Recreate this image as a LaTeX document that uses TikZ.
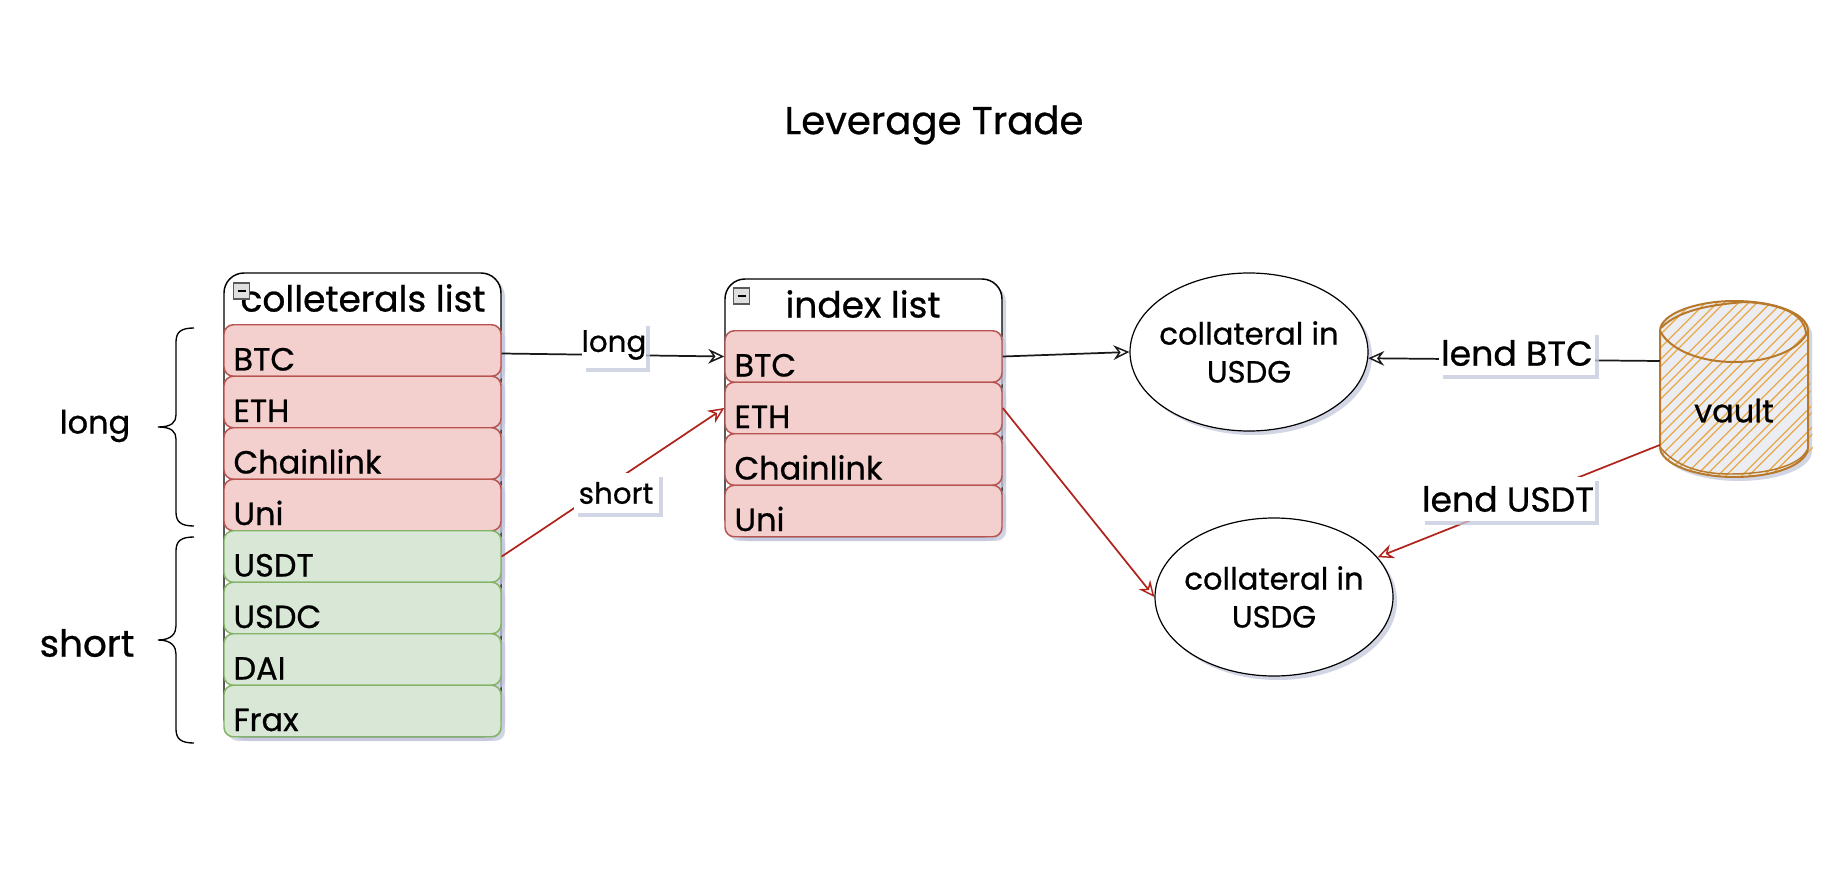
\documentclass[tikz,border=0pt]{standalone}
\usepackage{fontspec}
\setmainfont{Poppins}[FakeBold=0.7]
\usetikzlibrary{arrows.meta,shadows,calc,shapes.geometric}
\definecolor{shc}{HTML}{C4C7DC}
\definecolor{redfill}{HTML}{F3CFCD}
\definecolor{redline}{HTML}{B85450}
\definecolor{greenfill}{HTML}{D9E8D6}
\definecolor{greenline}{HTML}{82B366}
\definecolor{edgered}{HTML}{B0241C}
\definecolor{vaultline}{HTML}{B87A2A}
\definecolor{vaulthatch}{HTML}{E9A948}
\definecolor{vaultfill}{HTML}{ECEDF3}
\newcommand\pxu{0.75pt}
\newcommand\fs[1]{\fontsize{#1}{#1}\selectfont}
\tikzset{
 softshadow/.style={drop shadow={shadow xshift=3pt,shadow yshift=-3pt,fill=shc,opacity=.75}},
 lane/.style={draw=black,line width=1.1pt,rounded corners=15pt,fill=white,minimum width=277*\pxu,inner sep=0pt,softshadow},
 rowbase/.style={rounded corners=7pt,line width=1.1pt,minimum width=277*\pxu,minimum height=51.5*\pxu,inner sep=0pt,text width=258*\pxu,align=left,font=\fs{24},softshadow},
 redrow/.style={rowbase,draw=redline,fill=redfill},
 greenrow/.style={rowbase,draw=greenline,fill=greenfill},
 headtext/.style={inner sep=0pt,font=\fs{27}},
 icon/.style={draw=gray!70!black,fill=gray!25,line width=.8pt,minimum size=16*\pxu,inner sep=0pt,
   path picture={\draw[black,line width=.9pt] ([xshift=3pt]path picture bounding box.west) -- ([xshift=-3pt]path picture bounding box.east);}},
 stateshape/.style={ellipse,draw=black,line width=.9pt,fill=white,minimum width=238*\pxu,minimum height=158*\pxu,inner sep=-10pt,align=center,font=\fontsize{23}{28.5}\selectfont,softshadow},
 conn/.style={line width=1.3pt,-{Stealth[open,length=12pt,width=11pt,inset=4pt,line width=1.1pt]}},
 blackconn/.style={conn,draw=black!90},
 redconn/.style={conn,draw=edgered},
 edgelabel/.style={fill=white,inner sep=0pt,align=center,softshadow},
 plaintext/.style={inner sep=0pt},
 bracepath/.style={draw=black,line width=1pt},
 vaultstroke/.style={draw=vaultline,line width=1.5pt},
}
\newcommand\rowtext[1]{\smash{\raisebox{-15pt}{#1}}}
\begin{document}
\begin{tikzpicture}[x=0.75pt,y=-0.75pt]
\useasboundingbox (0,0) rectangle (1846,884);
\fill[white] (0,0) rectangle (1846,884);

\node[plaintext,font=\fs{29}] (title) at (934,125) {Leverage Trade};

% collateral list
\node[lane,minimum height=464*\pxu] (lane1) at (362.5,505) {};
\node[headtext] (head1) at (363,298) {colleterals list};
\node[icon] (icon1) at (241.5,291) {};
\node[redrow] (cbtc) at (362.5,350.5) {\rowtext{BTC}};
\node[redrow] (ceth) at (362.5,402) {\rowtext{ETH}};
\node[redrow] (clink) at (362.5,453.5) {\rowtext{Chainlink}};
\node[redrow] (cuni) at (362.5,505) {\rowtext{Uni}};
\node[greenrow] (cusdt) at (362.5,556.5) {\rowtext{USDT}};
\node[greenrow] (cusdc) at (362.5,608) {\rowtext{USDC}};
\node[greenrow] (cdai) at (362.5,659.5) {\rowtext{DAI}};
\node[greenrow] (cfrax) at (362.5,711) {\rowtext{Frax}};

% index list
\node[lane,minimum height=258*\pxu] (lane2) at (863.5,408) {};
\node[headtext] (head2) at (863,304) {index list};
\node[icon] (icon2) at (741.5,296) {};
\node[redrow] (ibtc) at (863.5,356.5) {\rowtext{BTC}};
\node[redrow] (ieth) at (863.5,408) {\rowtext{ETH}};
\node[redrow] (ilink) at (863.5,459.5) {\rowtext{Chainlink}};
\node[redrow] (iuni) at (863.5,511) {\rowtext{Uni}};

% ellipses
\node[stateshape] (e1) at (1249,352) {collateral in\\USDG};
\node[stateshape] (e2) at (1274,597) {collateral in\\USDG};

% vault cylinder
\begin{scope}
 \path[fill=shc,opacity=.75] (1664,335) .. controls (1664,318) and (1700,305) .. (1738,305) .. controls (1780,305) and (1812,318) .. (1812,335) -- (1812,451) .. controls (1812,468) and (1780,481) .. (1738,481) .. controls (1700,481) and (1664,468) .. (1664,451) -- cycle;
 \path[fill=vaultfill] (1660,331) .. controls (1660,314) and (1696,301) .. (1734,301) .. controls (1776,301) and (1808,314) .. (1808,331) -- (1808,447) .. controls (1808,464) and (1776,477) .. (1734,477) .. controls (1696,477) and (1660,464) .. (1660,447) -- cycle;
 \begin{scope}
  \clip (1660,331) .. controls (1660,314) and (1696,301) .. (1734,301) .. controls (1776,301) and (1808,314) .. (1808,331) -- (1813,447) .. controls (1808,464) and (1776,477) .. (1734,477) .. controls (1696,477) and (1660,464) .. (1660,447) -- cycle;
  \pgfmathsetseed{7}
  \foreach \k in {0,...,36} {
   \pgfmathsetmacro\jit{rand*3}
   \draw[vaulthatch,line width=.95pt] ({1440+\k*11+\jit},500) -- ({1440+\k*11+\jit+200},300);
  }
 \end{scope}
 \draw[vaultstroke] (1660,331) .. controls (1660,314) and (1696,301) .. (1734,301) .. controls (1776,301) and (1808,314) .. (1808,331) -- (1808,447) .. controls (1808,464) and (1776,477) .. (1734,477) .. controls (1696,477) and (1660,464) .. (1660,447) -- cycle;
 \draw[vaultstroke] (1661,328) .. controls (1680,308) and (1720,304) .. (1745,302) .. controls (1785,304) and (1806,316) .. (1806,335);
 \draw[vaultstroke] (1660,331) .. controls (1670,350) and (1700,362) .. (1734,362) .. controls (1770,362) and (1800,350) .. (1808,331);
 \draw[vaultstroke,line width=1.1pt] (1660,447) .. controls (1675,466) and (1700,474) .. (1730,474) .. controls (1770,474) and (1800,465) .. (1807,450);
\end{scope}
\node[plaintext,font=\fs{24},minimum width=148*\pxu,minimum height=176*\pxu] (vault) at (1734,389) {\smash{\raisebox{-25pt}{vault}}};
\coordinate (vaulta) at ($(vault.west)+(0,-28)$);
\coordinate (vaultb) at ($(vault.west)+(0,56)$);

% connectors
\draw[blackconn] ($(cbtc.east)+(0,3)$) -- (ibtc.west);
\draw[redconn] (cusdt.east) -- (ieth.west);
\draw[blackconn] (ibtc.east) -- (e1.west);
\draw[redconn] (ieth.east) -- (e2.west);
\draw[blackconn] (vaulta) -- (e1.-3);
\draw[redconn] (vaultb) -- (e2.21);

% edge labels
\node[edgelabel,minimum width=59*\pxu,minimum height=46*\pxu,font=\fs{22}] (llong) at (614,345) {\raisebox{-3pt}{long}};
\node[edgelabel,minimum width=85*\pxu,minimum height=40*\pxu,font=\fs{22}] (lshort) at (616,493) {short};
\node[edgelabel,minimum width=156*\pxu,minimum height=44*\pxu,font=\fs{26}] (lbtc) at (1517,353) {lend BTC};
\node[edgelabel,minimum width=174*\pxu,minimum height=44*\pxu,font=\fs{26}] (lusdt) at (1508,499) {lend USDT};

% braces
\draw[bracepath] (194,328) .. controls (181,328) and (176,332) .. (176,342) -- (176,415) .. controls (176,422) and (172,427) .. (158,427) .. controls (172,427) and (176,432) .. (176,439) -- (176,512) .. controls (176,522) and (181,526) .. (194,526);
\draw[bracepath] (194,537) .. controls (181,537) and (176,541) .. (176,551) -- (176,626) .. controls (176,633) and (172,640) .. (158,640) .. controls (172,640) and (176,647) .. (176,654) -- (176,729) .. controls (176,739) and (181,743) .. (194,743);
\node[plaintext,font=\fs{24}] (blong) at (95,426) {long};
\node[plaintext,font=\fs{28}] (bshort) at (87,643) {short};
\end{tikzpicture}
\end{document}
